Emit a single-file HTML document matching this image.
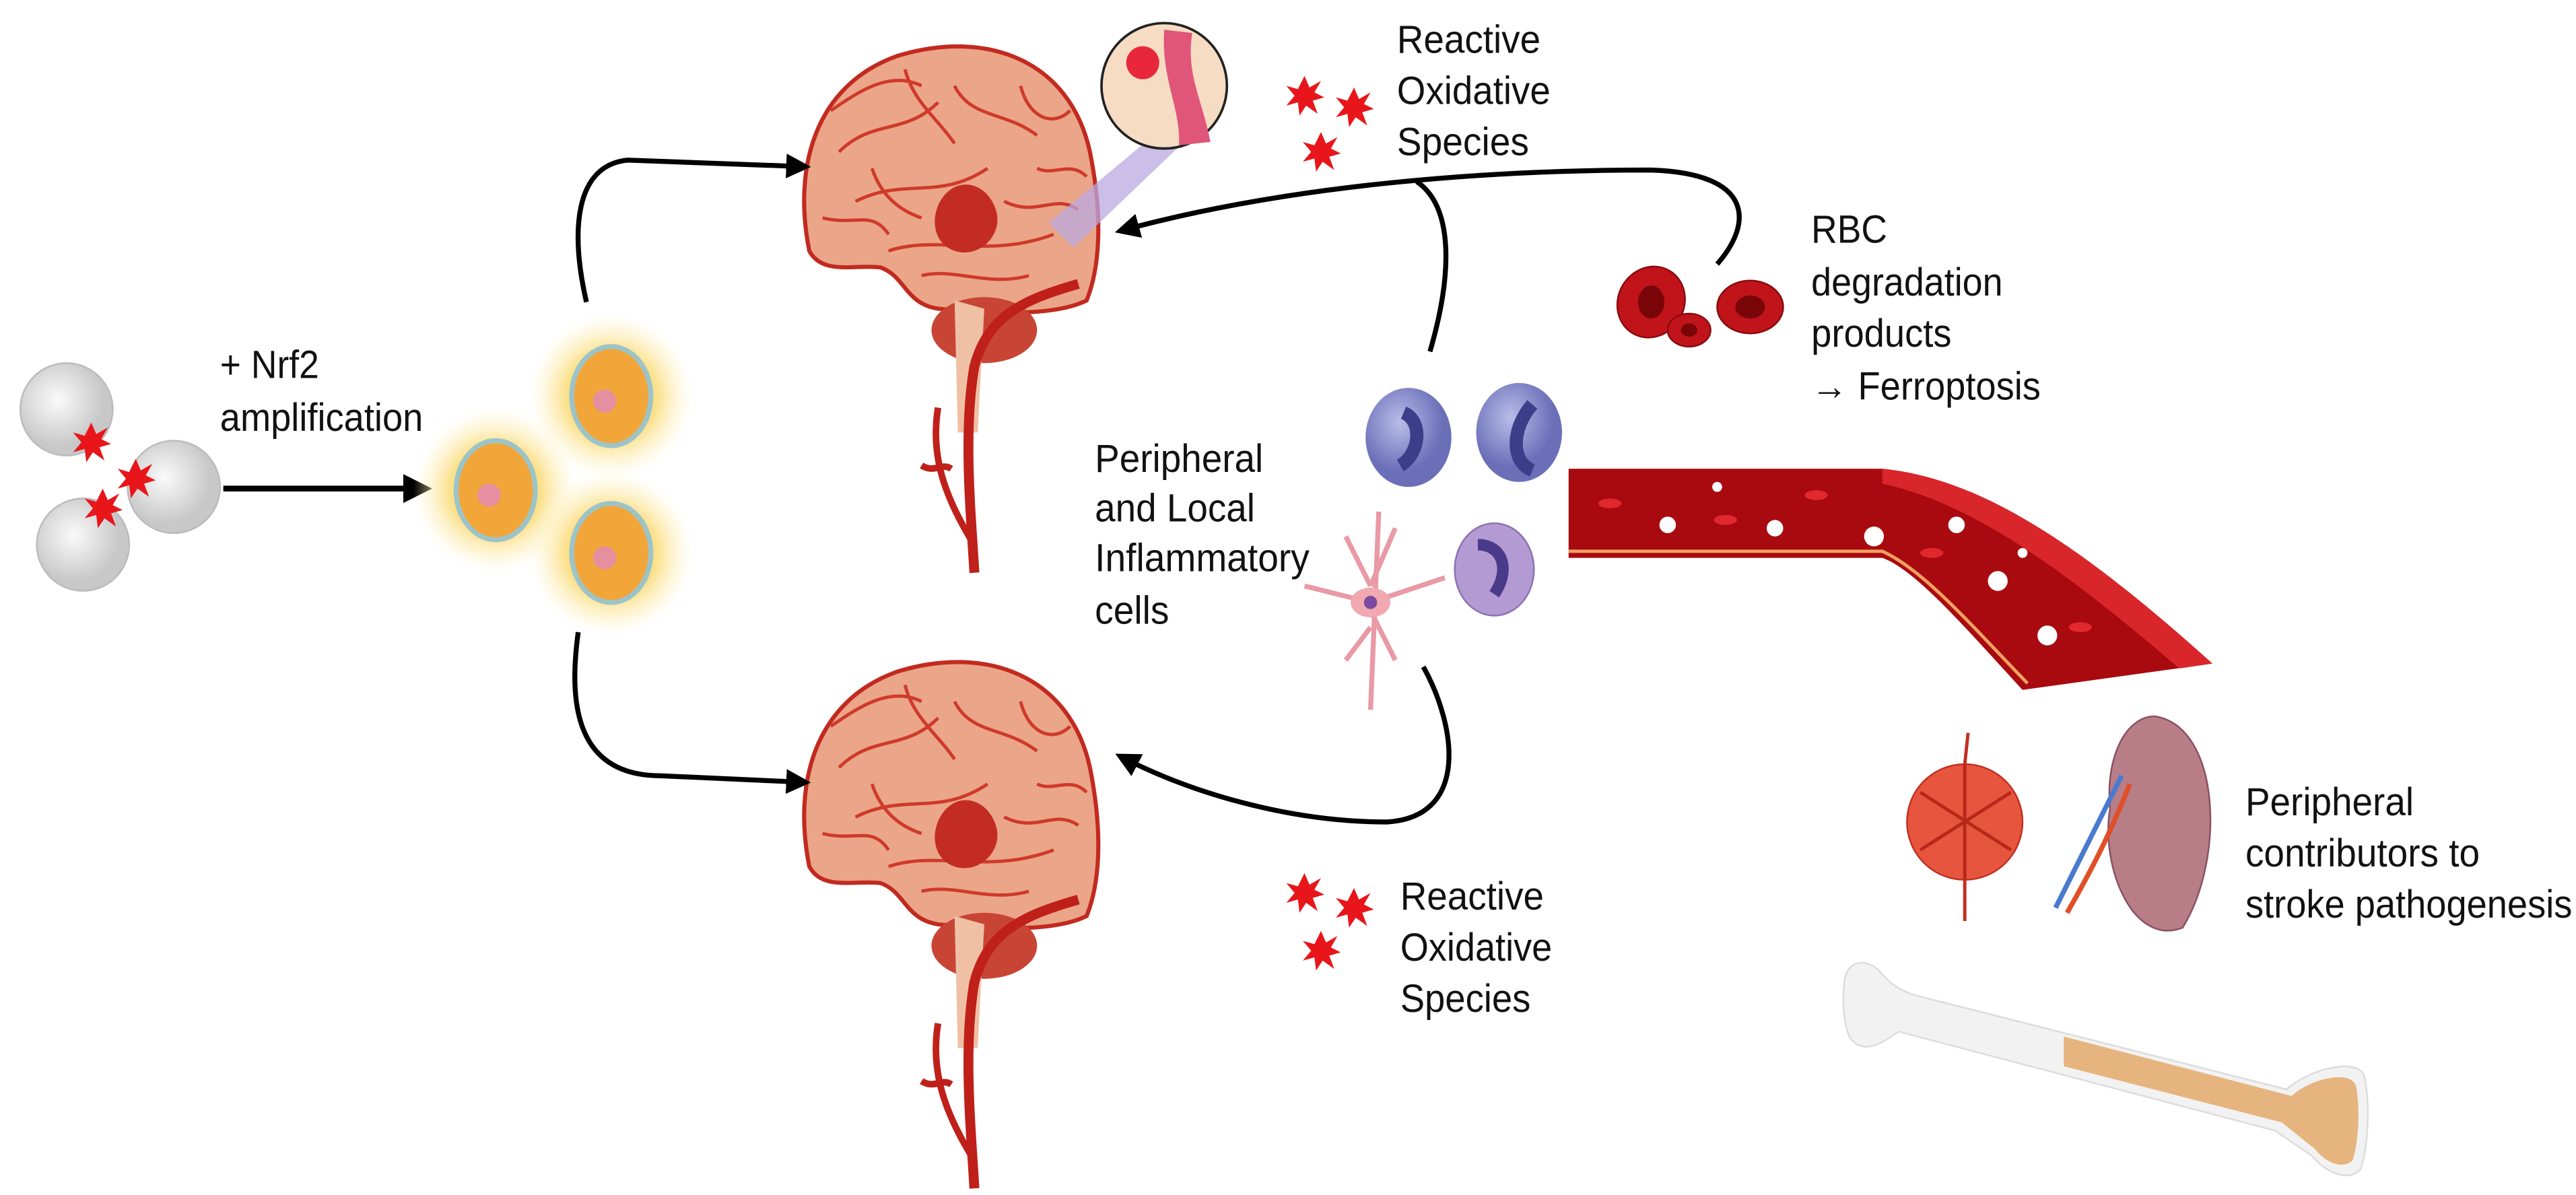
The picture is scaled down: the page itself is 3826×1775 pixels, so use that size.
<!DOCTYPE html>
<html><head><meta charset="utf-8"><style>
html,body{margin:0;padding:0;background:#fff;width:3826px;height:1775px;overflow:hidden}
svg{display:block}
text{font-family:"Liberation Sans",sans-serif;font-size:24px;fill:#111}
</style></head><body>
<svg width="3826" height="1775" viewBox="0 0 1560 724" xmlns="http://www.w3.org/2000/svg">
<defs>
<radialGradient id="glow"><stop offset="0.55" stop-color="#fbe08a" stop-opacity="1"/><stop offset="1" stop-color="#fff6d0" stop-opacity="0"/></radialGradient>
<radialGradient id="grey" cx="0.4" cy="0.4"><stop offset="0" stop-color="#fafafa"/><stop offset="1" stop-color="#c8c8c8"/></radialGradient>
<radialGradient id="blue" cx="0.4" cy="0.35"><stop offset="0" stop-color="#b9bde8"/><stop offset="1" stop-color="#6a6fb8"/></radialGradient>
<marker id="ah" viewBox="0 0 10 10" refX="8" refY="5" markerWidth="5" markerHeight="5" orient="auto"><path d="M0,0L10,5L0,10z" fill="#000"/></marker>
<g id="star"><polygon points="0,-12 3,-5 10,-9 6,-2 12,1 5,3 8,11 1,6 -3,12 -4,4 -11,6 -6,0 -11,-6 -4,-4" fill="#e8161a"/></g>
<g id="brain">
 <path d="M-88,40 C-98,-10 -85,-60 -35,-78 C20,-95 70,-75 82,-20 C90,20 88,50 80,70 C60,80 20,78 -10,75 C-30,72 -30,55 -45,50 C-60,48 -80,55 -88,40Z" fill="#eba68a" stroke="#c22a20" stroke-width="2.5"/>
 <path d="M-70,-20 C-50,-40 -30,-30 -10,-50 M-60,10 C-30,-5 -10,10 20,-10 M0,-60 C10,-40 30,-45 50,-30 M-40,40 C-10,30 20,45 60,30 M-75,-45 C-60,-55 -40,-70 -20,-60 M30,10 C50,20 60,5 75,15 M-20,55 C0,50 20,62 45,55 M-80,20 C-60,25 -50,15 -40,30 M40,-60 C45,-40 60,-35 70,-45 M-30,-70 C-25,-50 -10,-40 0,-25 M50,-10 C60,-5 70,-15 80,-5 M-50,-10 C-45,5 -35,15 -20,20" stroke="#cf3a2a" stroke-width="2" fill="none"/>
 <path d="M-5,5 C5,-5 20,0 25,15 C30,30 15,45 0,40 C-15,35 -15,15 -5,5Z" fill="#c32c22"/>
 <ellipse cx="18" cy="88" rx="32" ry="20" fill="#c84535"/>
 <path d="M0,70 L18,75 L14,150 L2,150Z" fill="#f0c0a5"/>
 <path d="M75,60 C40,70 20,80 12,110 C5,150 10,200 12,235" stroke="#c0201a" stroke-width="6" fill="none"/>
 <path d="M-10,135 C-15,165 -5,190 10,215 M-20,170 C-12,175 -8,168 -2,172" stroke="#c0201a" stroke-width="4" fill="none"/>
</g>
</defs>
<rect width="1560" height="724" fill="#fff"/>

<!-- grey cells -->
<circle cx="40" cy="248" r="28" fill="url(#grey)" stroke="#bbb"/>
<circle cx="105" cy="295" r="28" fill="url(#grey)" stroke="#bbb"/>
<circle cx="50" cy="330" r="28" fill="url(#grey)" stroke="#bbb"/>
<use href="#star" x="55" y="268"/><use href="#star" x="82" y="290"/><use href="#star" x="62" y="308"/>
<text x="133" y="229" textLength="60" lengthAdjust="spacingAndGlyphs">+ Nrf2</text><text x="133" y="261" textLength="123" lengthAdjust="spacingAndGlyphs">amplification</text>
<line x1="135" y1="296" x2="258" y2="296" stroke="#000" stroke-width="3.5" marker-end="url(#ah)"/>

<!-- yellow cells -->
<g>
<circle cx="370" cy="240" r="50" fill="url(#glow)"/><circle cx="300" cy="297" r="50" fill="url(#glow)"/><circle cx="370" cy="335" r="50" fill="url(#glow)"/>
<g fill="#f2a63a" stroke="#9cc4c8" stroke-width="3"><ellipse cx="370" cy="240" rx="24" ry="30"/><ellipse cx="300" cy="297" rx="24" ry="30"/><ellipse cx="370" cy="335" rx="24" ry="30"/></g>
<g fill="#e58fa0"><circle cx="366" cy="243" r="7"/><circle cx="296" cy="300" r="7"/><circle cx="366" cy="338" r="7"/></g>
</g>

<!-- brains -->
<use href="#brain" x="578" y="112"/>
<use href="#brain" x="578" y="485"/>
<polygon points="635,135 695,85 718,85 650,150" fill="#b9a8e0" opacity="0.75"/>
<circle cx="705" cy="52" r="38" fill="#f6dcc2" stroke="#222" stroke-width="1.5"/>
<path d="M705,18 C703,48 715,65 714,88 L733,86 C728,60 718,45 722,20Z" fill="#e0557a"/>
<circle cx="692" cy="38" r="10" fill="#e8283a"/>

<!-- arrows -->
<path d="M355,183 C345,140 348,100 380,97 L488,101" stroke="#000" stroke-width="3" fill="none" marker-end="url(#ah)"/>
<path d="M350,383 C345,420 345,470 400,470 L488,474" stroke="#000" stroke-width="3" fill="none" marker-end="url(#ah)"/>
<path d="M1040,160 C1062,135 1062,105 1000,103 C900,103 780,112 678,140" stroke="#000" stroke-width="3" fill="none" marker-end="url(#ah)"/>
<path d="M866,213 C880,165 880,125 858,110" stroke="#000" stroke-width="3" fill="none"/>
<path d="M862,404 C882,440 890,495 840,498 C780,498 720,480 678,458" stroke="#000" stroke-width="3" fill="none" marker-end="url(#ah)"/>

<!-- ROS -->
<use href="#star" x="790" y="58"/><use href="#star" x="820" y="65"/><use href="#star" x="800" y="92"/>
<text x="846" y="32" textLength="87" lengthAdjust="spacingAndGlyphs">Reactive</text><text x="846" y="63" textLength="93" lengthAdjust="spacingAndGlyphs">Oxidative</text><text x="846" y="94" textLength="80" lengthAdjust="spacingAndGlyphs">Species</text>
<use href="#star" x="790" y="541"/><use href="#star" x="820" y="550"/><use href="#star" x="800" y="576"/>
<text x="848" y="551" textLength="87" lengthAdjust="spacingAndGlyphs">Reactive</text><text x="848" y="582" textLength="92" lengthAdjust="spacingAndGlyphs">Oxidative</text><text x="848" y="613" textLength="79" lengthAdjust="spacingAndGlyphs">Species</text>

<!-- RBC -->
<g fill="#c0141a" stroke="#8a0a0e"><ellipse cx="1000" cy="183" rx="20" ry="22" transform="rotate(30 1000 183)"/><ellipse cx="1023" cy="200" rx="13" ry="10"/><ellipse cx="1060" cy="186" rx="20" ry="16"/></g>
<g fill="#7a0508"><ellipse cx="1000" cy="183" rx="8" ry="10"/><ellipse cx="1023" cy="200" rx="5" ry="4"/><ellipse cx="1060" cy="186" rx="9" ry="7"/></g>
<text x="1097" y="147" textLength="46" lengthAdjust="spacingAndGlyphs">RBC</text><text x="1097" y="179" textLength="116" lengthAdjust="spacingAndGlyphs">degradation</text><text x="1097" y="210" textLength="85" lengthAdjust="spacingAndGlyphs">products</text><text x="1097" y="242" textLength="139" lengthAdjust="spacingAndGlyphs">→ Ferroptosis</text>

<!-- inflammatory cells -->
<ellipse cx="853" cy="265" rx="26" ry="30" fill="url(#blue)"/>
<ellipse cx="920" cy="262" rx="26" ry="30" fill="url(#blue)"/>
<path d="M850,250 C862,255 860,275 848,282" stroke="#3b3f8a" stroke-width="8" fill="none"/>
<path d="M928,245 C915,260 915,280 928,285" stroke="#3b3f8a" stroke-width="8" fill="none"/>
<ellipse cx="905" cy="345" rx="24" ry="28" fill="#b49ad2" stroke="#8a72b0"/>
<path d="M895,330 C910,330 915,345 905,360" stroke="#4a3a8a" stroke-width="7" fill="none"/>
<path d="M835,310 L830,430 M830,365 L790,355 M830,365 L875,350 M830,370 L845,400 M830,355 L815,325 M830,355 L845,320 M830,380 L815,400" stroke="#e99aa5" stroke-width="3" fill="none"/>
<ellipse cx="830" cy="365" rx="12" ry="9" fill="#f2a8b0"/><circle cx="830" cy="365" r="4" fill="#7a4aa0"/>
<text x="663" y="286" textLength="102" lengthAdjust="spacingAndGlyphs">Peripheral</text><text x="663" y="316" textLength="97" lengthAdjust="spacingAndGlyphs">and Local</text><text x="663" y="346" textLength="130" lengthAdjust="spacingAndGlyphs">Inflammatory</text><text x="663" y="378" textLength="45" lengthAdjust="spacingAndGlyphs">cells</text>

<!-- vessel -->
<path d="M950,284 L1140,284 C1200,290 1260,330 1340,402 L1225,418 C1190,380 1160,345 1140,338 L950,338Z" fill="#a80a10"/>
<path d="M1140,284 C1200,290 1260,330 1340,402 L1320,405 C1250,345 1195,305 1140,293Z" fill="#d8262a"/>
<path d="M950,334 L1140,334 C1165,345 1195,380 1228,414" stroke="#f0a060" stroke-width="2" fill="none"/>
<g fill="#fff"><circle cx="1010" cy="318" r="5"/><circle cx="1075" cy="320" r="5"/><circle cx="1135" cy="325" r="6"/><circle cx="1185" cy="318" r="5"/><circle cx="1210" cy="352" r="6"/><circle cx="1240" cy="385" r="6"/><circle cx="1225" cy="335" r="3"/><circle cx="1040" cy="295" r="3"/></g>
<g fill="#e0282e"><ellipse cx="975" cy="305" rx="7" ry="3"/><ellipse cx="1045" cy="315" rx="7" ry="3"/><ellipse cx="1100" cy="300" rx="7" ry="3"/><ellipse cx="1170" cy="335" rx="7" ry="3"/><ellipse cx="1260" cy="380" rx="7" ry="3"/></g>

<!-- spleen / kidney -->
<circle cx="1190" cy="498" r="35" fill="#e8553e" stroke="#c03020"/>
<path d="M1163,480 L1218,515 M1190,463 L1190,533 M1163,515 L1218,480" stroke="#b82818" stroke-width="2"/>
<line x1="1190" y1="533" x2="1190" y2="558" stroke="#c03020" stroke-width="2"/>
<line x1="1190" y1="463" x2="1192" y2="444" stroke="#c03020" stroke-width="2"/>
<path d="M1305,434 C1345,440 1348,520 1322,562 C1292,574 1272,525 1278,490 C1275,458 1288,434 1305,434Z" fill="#b77e88" stroke="#8a5060"/>
<path d="M1285,470 C1270,500 1260,520 1245,550" stroke="#4a7ad0" stroke-width="3" fill="none"/>
<path d="M1290,475 C1278,505 1268,525 1252,553" stroke="#e05028" stroke-width="3" fill="none"/>
<text x="1360" y="494" textLength="102" lengthAdjust="spacingAndGlyphs">Peripheral</text><text x="1360" y="525" textLength="142" lengthAdjust="spacingAndGlyphs">contributors to</text><text x="1360" y="556" textLength="198" lengthAdjust="spacingAndGlyphs">stroke pathogenesis</text>

<!-- bone -->
<path d="M1117,595 C1118,582 1130,580 1138,588 C1145,596 1150,600 1160,603 L1385,660 C1398,648 1428,640 1432,652 C1436,670 1434,695 1430,708 C1424,716 1410,712 1400,700 L1378,685 L1150,625 C1140,632 1128,640 1120,628 C1116,618 1116,605 1117,595Z" fill="#f2f2f2" stroke="#dcdcdc"/>
<path d="M1250,628 L1388,664 C1400,653 1424,648 1427,658 C1430,674 1428,694 1425,703 C1420,708 1410,706 1402,696 L1382,680 L1250,646Z" fill="#e6b47e"/>
</svg>
</body></html>
